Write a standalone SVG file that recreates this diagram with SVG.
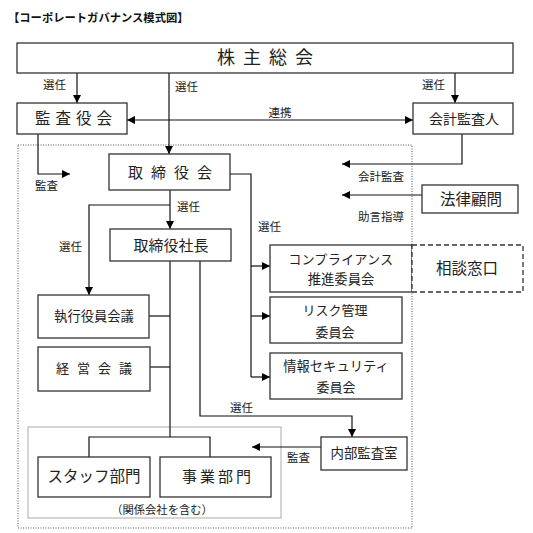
<svg xmlns="http://www.w3.org/2000/svg" width="533" height="533" viewBox="0 0 533 533">
<defs>
<marker id="ah" viewBox="0 0 8 8" refX="8" refY="4" markerWidth="8" markerHeight="8" markerUnits="userSpaceOnUse" orient="auto-start-reverse">
<path d="M0,0 L8,4 L0,8 z" fill="#000"/>
</marker>
<style>
.bx{fill:#fff;stroke:#333;stroke-width:1.3}
.ln{fill:none;stroke:#111;stroke-width:1.2}
.t{font-family:"Noto Sans CJK JP","Noto Sans",sans-serif;fill:#222;text-anchor:middle}
.lb{font-family:"Noto Sans CJK JP","Noto Sans",sans-serif;fill:#222;font-size:11.5px}
</style>
</defs>
<rect width="533" height="533" fill="#fff"/>
<text x="8" y="22" font-family="'Noto Sans CJK JP',sans-serif" font-size="11.3" font-weight="bold" fill="#111">【コーポレートガバナンス模式図】</text>

<rect x="18" y="145" width="394" height="383" fill="none" stroke="#555" stroke-width="1" stroke-dasharray="1,1.5"/>
<rect x="28" y="427" width="253" height="91" fill="none" stroke="#aaa" stroke-width="1"/>

<g id="connectors">
<path class="ln" d="M77,73 V103" marker-end="url(#ah)"/>
<path class="ln" d="M169,73 V154" marker-end="url(#ah)"/>
<path class="ln" d="M455,73 V103" marker-end="url(#ah)"/>
<path class="ln" d="M127,120 H413" marker-start="url(#ah)" marker-end="url(#ah)"/>
<path class="ln" d="M38,134 V174 H70" marker-end="url(#ah)"/>
<path class="ln" d="M462,134 V164 H342" marker-end="url(#ah)"/>
<path class="ln" d="M422,195 H342" marker-end="url(#ah)"/>
<path class="ln" d="M230,174 H251 V377"/>
<path class="ln" d="M251,266 H270" marker-end="url(#ah)"/>
<path class="ln" d="M251,316 H270" marker-end="url(#ah)"/>
<path class="ln" d="M251,377 H270" marker-end="url(#ah)"/>
<path class="ln" d="M170,190 V229" marker-end="url(#ah)"/>
<path class="ln" d="M170,205 H89 V295" marker-end="url(#ah)"/>
<path class="ln" d="M170,261 V437"/>
<path class="ln" d="M149,316 H170"/>
<path class="ln" d="M150,367 H170"/>
<path class="ln" d="M89,457 V437 H210 V457"/>
<path class="ln" d="M200,261 V416 H352 V437" marker-end="url(#ah)"/>
<path class="ln" d="M321,447 H252" marker-end="url(#ah)"/>
</g>

<g id="labels">
<text class="lb" x="43" y="89">選任</text>
<text class="lb" x="175" y="91">選任</text>
<text class="lb" x="422" y="89">選任</text>
<text class="lb" x="280" y="117" text-anchor="middle">連携</text>
<text class="lb" x="35" y="190">監査</text>
<text class="lb" x="177" y="211">選任</text>
<text class="lb" x="59" y="251">選任</text>
<text class="lb" x="258" y="231">選任</text>
<text class="lb" x="358" y="181">会計監査</text>
<text class="lb" x="358" y="221">助言指導</text>
<text class="lb" x="230" y="412">選任</text>
<text class="lb" x="287" y="462">監査</text>
</g>

<g id="shareholders">
<rect class="bx" x="17" y="43" width="496" height="30"/>
<text class="t" x="269" y="64" font-size="18" letter-spacing="8">株主総会</text>
</g>
<g id="kansayakukai">
<rect class="bx" x="17" y="103" width="110" height="31"/>
<text class="t" x="76" y="124" font-size="15.5" letter-spacing="5">監査役会</text>
</g>
<g id="kaikei">
<rect class="bx" x="413" y="103" width="100" height="31"/>
<text class="t" x="464" y="124" font-size="14">会計監査人</text>
</g>
<g id="torishimariyakukai">
<rect class="bx" x="109" y="154" width="121" height="36"/>
<text class="t" x="174" y="178" font-size="15" letter-spacing="8">取締役会</text>
</g>
<g id="shacho">
<rect class="bx" x="110" y="229" width="121" height="32"/>
<text class="t" x="171" y="251" font-size="15">取締役社長</text>
</g>
<g id="shikko">
<rect class="bx" x="38" y="295" width="111" height="43"/>
<text class="t" x="94" y="321" font-size="13.3">執行役員会議</text>
</g>
<g id="keiei">
<rect class="bx" x="38" y="347" width="112" height="44"/>
<text class="t" x="98" y="373" font-size="13" letter-spacing="8">経営会議</text>
</g>
<g id="staff">
<rect class="bx" x="38" y="457" width="112" height="40"/>
<text class="t" x="94" y="482" font-size="15.5">スタッフ部門</text>
</g>
<g id="jigyo">
<rect class="bx" x="160" y="457" width="111" height="40"/>
<text class="t" x="218" y="482" font-size="15" letter-spacing="3">事業部門</text>
</g>
<text class="t" x="162" y="514" font-size="11.3">（関係会社を含む）</text>
<g id="compliance">
<rect class="bx" x="270" y="245" width="142" height="47"/>
<text class="t" x="341" y="264" font-size="12.8" letter-spacing="0.5">コンプライアンス</text>
<text class="t" x="341" y="284" font-size="13.3">推進委員会</text>
</g>
<g id="soudan">
<rect x="412" y="245" width="111" height="47" fill="#fff" stroke="#333" stroke-width="1.3" stroke-dasharray="5,3"/>
<text class="t" x="467" y="274" font-size="15.5">相談窓口</text>
</g>
<g id="risk">
<rect class="bx" x="270" y="297" width="132" height="46"/>
<text class="t" x="335" y="315" font-size="13">リスク管理</text>
<text class="t" x="335" y="337" font-size="13">委員会</text>
</g>
<g id="security">
<rect class="bx" x="270" y="353" width="132" height="46"/>
<text class="t" x="336" y="371" font-size="13.3">情報セキュリティ</text>
<text class="t" x="336" y="392" font-size="13">委員会</text>
</g>
<g id="naibu">
<rect class="bx" x="321" y="437" width="86" height="33"/>
<text class="t" x="364" y="458" font-size="13.4">内部監査室</text>
</g>
<g id="houritsu">
<rect class="bx" x="422" y="185" width="96" height="28"/>
<text class="t" x="471" y="205" font-size="15.5">法律顧問</text>
</g>
</svg>
